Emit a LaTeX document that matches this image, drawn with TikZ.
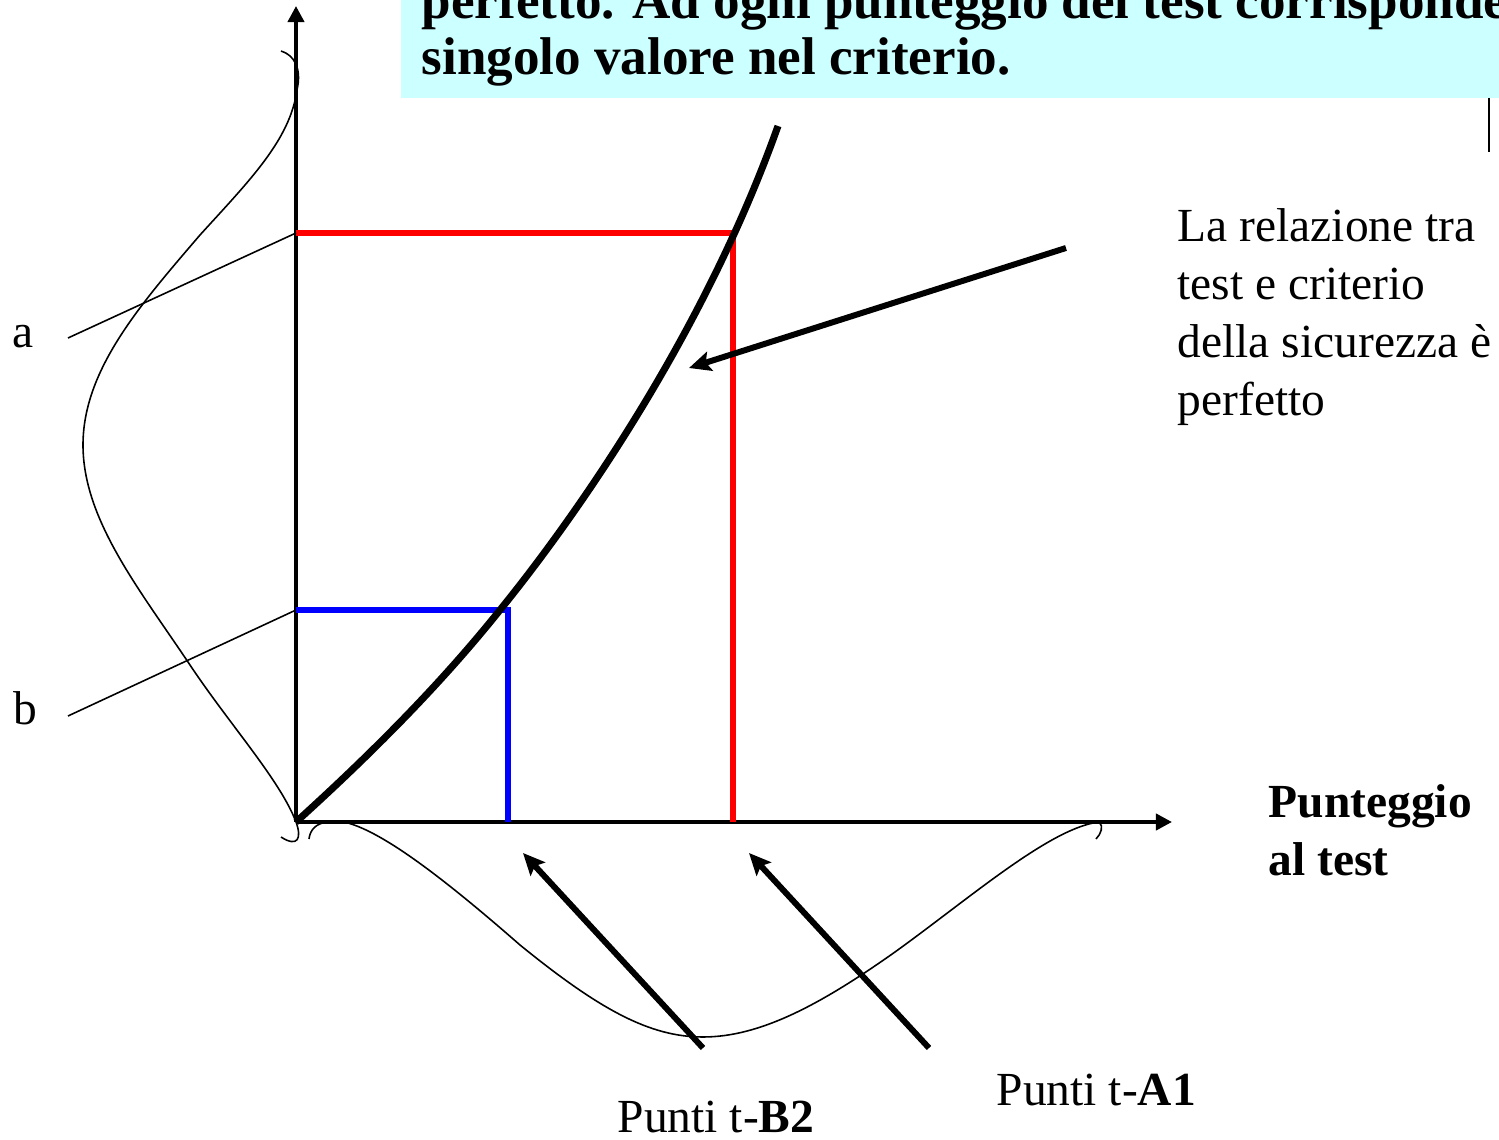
\documentclass[tikz,border=0pt]{standalone}
\usepackage{fontspec}
\setmainfont{Liberation Serif}
\usepackage{tikz}
\usetikzlibrary{calc, positioning}
\usetikzlibrary{arrows.meta}
\definecolor{boxcyan}{RGB}{204,255,255}
\tikzset{
  axisline/.style={line width=1.1pt, -{Triangle[length=4.6pt, width=4.6pt]}},
  thincurve/.style={line width=0.45pt},
  proj/.style={line width=1.6pt},
  pointer/.style={line width=1.7pt, -{Stealth[length=6.2pt, width=5.6pt, inset=1.2pt]}},
  lbl/.style={inner sep=0pt, anchor=base west, align=left,
    font=\fontsize{13.5}{16.5}\selectfont},
}

\begin{document}
\begin{tikzpicture}[x=0.01cm, y=-0.01cm]
    \path[use as bounding box, clip] (0,0) rectangle (1499,1140);

    % 1: id
    % 2: colour
    % 3: x on the test axis
    % 4: y on the criterion axis
    \newcommand{\Proj}[4]{
        \coordinate (#1/left) at (296,#4);
        \coordinate (#1/corner) at (#3,#4);
        \coordinate (#1/foot) at (#3,822);
        \draw [proj, #2] (#1/left) -- (#1/corner) -- (#1/foot);
    }

    % Title box (base anchor = last line)
    \fill [boxcyan] (401,0) rectangle (1499,98);
    \node [lbl, font=\fontsize{15.1}{16.2}\selectfont\bfseries] (title) at (421,75)
        {perfetto. Ad ogni punteggio del test corrisponde un\\singolo valore nel criterio.};
    \draw [line width=0.6pt] (1489,98) -- (1489,152);

    % Axes
    \coordinate (orig) at (296,822);
    \coordinate (ytop) at (296,6);
    \coordinate (xend) at (1172,822);
    \draw [axisline] (orig) -- (ytop);
    \draw [axisline] (orig) -- (xend);

    % Distribution of the criterion
    \draw [thincurve] (281,51) .. controls (294,55) and (302,68) .. (297,90)
        .. controls (290,140) and (250,180) .. (200,235)
        .. controls (140,305) and (83,370) .. (83,445)
        .. controls (83,520) and (140,590) .. (190,665)
        .. controls (230,725) and (280,780) .. (296,822)
        .. controls (302,838) and (298,848) .. (281,837);

    % Distribution of the test
    \draw [thincurve] (309,839) .. controls (310,830) and (316,823) .. (328,822) -- (344,822)
        .. controls (380,830) and (440,875) .. (520,945)
        .. controls (600,1010) and (650,1037) .. (703,1037)
        .. controls (760,1037) and (820,1005) .. (895,952)
        .. controls (970,898) and (1050,828) .. (1099,822)
        .. controls (1104,826) and (1101,834) .. (1096,839);

    % Projections
    \Proj{A}{red}{733}{233}
    \Proj{B}{blue}{508}{610}

    % Relation test - criterion
    \draw [line width=2pt] (orig) .. controls (370,755) and (440,685) .. (500,610)
        .. controls (565,530) and (700,345) .. (778,126);

    % Criterion values
    \node [lbl] (la) at (12,348) {a};
    \node [lbl] (lb) at (13,725) {b};
    \coordinate (la/end) at (68,338);
    \coordinate (lb/end) at (68,716);
    \draw [thincurve] (la/end) -- (A/left);
    \draw [thincurve] (lb/end) -- (B/left);

    % Comment on the relation
    \node [lbl] (rel) at (1177,416) {La relazione tra\\test e criterio\\della sicurezza è\\perfetto};
    \coordinate (rel/from) at (1066,248);
    \coordinate (rel/to) at (689,368);
    \draw [pointer] (rel/from) -- (rel/to);

    % Test axis label and points
    \node [lbl, font=\fontsize{13.5}{16.5}\selectfont\bfseries] (xlab) at (1268,876) {Punteggio\\al test};
    \node [lbl] (tB) at (617,1133) {Punti t-\textbf{B2}};
    \node [lbl] (tA) at (996,1106) {Punti t-\textbf{A1}};
    \coordinate (tB/from) at (703,1048);
    \coordinate (tB/to) at (523,853);
    \coordinate (tA/from) at (929,1048);
    \coordinate (tA/to) at (749,853);
    \draw [pointer] (tB/from) -- (tB/to);
    \draw [pointer] (tA/from) -- (tA/to);

\end{tikzpicture}
\end{document}
